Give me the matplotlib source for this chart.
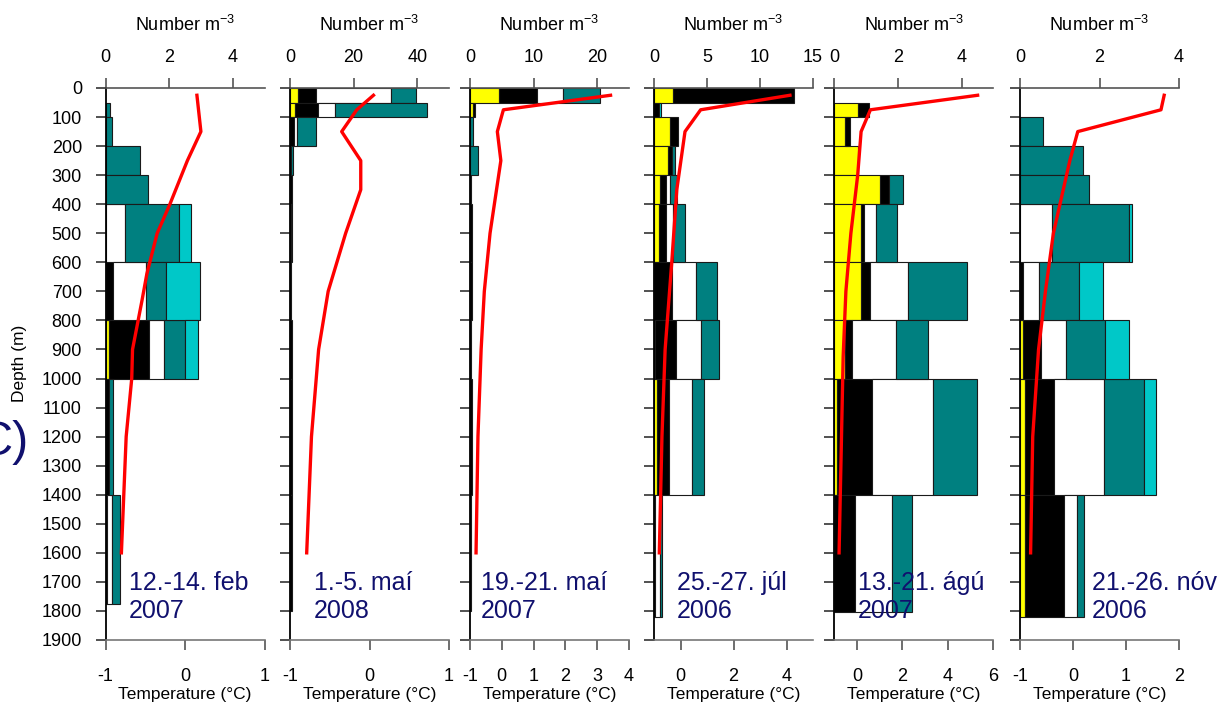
import numpy as np
import matplotlib.pyplot as plt

plt.rcParams['font.family'] = ['Liberation Sans', 'DejaVu Sans']
plt.rcParams['axes.unicode_minus'] = False

# depth layers of the net hauls (m): upper limits, last layer ends at the haul bottom
layer_top = [0, 50, 100, 200, 300, 400, 600, 800, 1000, 1400]
haul_bottom = [1775, 1800, 1800, 1820, 1805, 1820]

dates = ['12.-14. feb\n2007', '1.-5. maí\n2008', '19.-21. maí\n2007',
         '25.-27. júl\n2006', '13.-21. ágú\n2007', '21.-26. nóv\n2006']

# abundance in each layer (Number m-3), one list per colour group
feb07_yellow = [0, 0, 0, 0, 0, 0, 0, 0.11, 0, 0.04]
feb07_black = [0, 0, 0, 0, 0, 0, 0.25, 1.25, 0.10, 0.02]
feb07_white = [0, 0, 0, 0, 0, 0.62, 1.01, 0.48, 0, 0.16]
feb07_teal = [0, 0.15, 0.22, 1.10, 1.35, 1.68, 0.65, 0.67, 0.14, 0.23]
feb07_cyan = [0, 0, 0, 0, 0, 0.40, 1.06, 0.41, 0, 0]

may08_yellow = [2.4, 1.6, 0, 0, 0, 0, 0, 0, 0, 0]
may08_black = [5.7, 7.1, 1.4, 0.3, 0.6, 0.3, 0.3, 0.5, 0.7, 0.7]
may08_white = [23.7, 5.4, 0.8, 0, 0, 0, 0, 0, 0, 0]
may08_teal = [7.9, 29.0, 6.0, 0.7, 0, 0.3, 0, 0, 0, 0]
may08_cyan = [0, 0, 0, 0, 0, 0, 0, 0, 0, 0]

may07_yellow = [4.6, 0.5, 0, 0, 0, 0, 0, 0, 0, 0]
may07_black = [6.0, 0.3, 0, 0, 0.2, 0.3, 0.3, 0.2, 0.3, 0.15]
may07_white = [4.0, 0, 0, 0, 0, 0, 0, 0, 0, 0]
may07_teal = [5.8, 0, 0.5, 1.3, 0, 0, 0, 0, 0, 0]
may07_cyan = [0, 0, 0, 0, 0, 0, 0, 0, 0, 0]

jul06_yellow = [1.76, 0, 1.50, 1.32, 0.54, 0.47, 0, 0.10, 0.25, 0]
jul06_black = [11.44, 0.45, 0.80, 0.35, 0.56, 0.63, 1.73, 1.94, 1.20, 0.10]
jul06_white = [0, 0, 0, 0, 0.40, 0.66, 2.23, 2.39, 2.10, 0.50]
jul06_teal = [0, 0, 0, 0.31, 0.70, 1.16, 2.00, 1.67, 1.19, 0.12]
jul06_cyan = [0, 0.25, 0, 0, 0, 0, 0, 0, 0, 0]

aug07_yellow = [0, 0.73, 0.34, 0.73, 1.44, 0.84, 0.84, 0.34, 0.07, 0]
aug07_black = [0, 0.36, 0.16, 0, 0.29, 0.10, 0.28, 0.21, 1.11, 0.65]
aug07_white = [0, 0, 0, 0, 0, 0.37, 1.19, 1.39, 1.91, 1.16]
aug07_teal = [0, 0, 0, 0, 0.42, 0.66, 1.85, 1.00, 1.40, 0.63]
aug07_cyan = [0, 0, 0, 0, 0, 0, 0, 0, 0, 0]

nov06_yellow = [0, 0, 0, 0, 0, 0, 0, 0.07, 0.13, 0.13]
nov06_black = [0, 0, 0, 0, 0, 0, 0.07, 0.45, 0.72, 0.97]
nov06_white = [0, 0, 0, 0, 0, 0.80, 0.42, 0.63, 1.26, 0.34]
nov06_teal = [0, 0, 0.58, 1.59, 1.74, 1.95, 1.00, 1.00, 1.01, 0.17]
nov06_cyan = [0, 0, 0, 0, 0, 0.07, 0.60, 0.59, 0.30, 0]

# temperature profiles (depth m, deg C)
feb07_tdepth = [25, 150, 250, 400, 500, 640, 730, 900, 1000, 1200, 1600]
feb07_temp = [0.15, 0.20, 0.03, -0.19, -0.35, -0.48, -0.54, -0.66, -0.67, -0.74, -0.80]
may08_tdepth = [25, 75, 150, 250, 350, 500, 700, 900, 1200, 1600]
may08_temp = [0.05, -0.16, -0.35, -0.11, -0.11, -0.30, -0.52, -0.64, -0.73, -0.79]
may07_tdepth = [25, 75, 150, 250, 500, 700, 900, 1200, 1600]
may07_temp = [3.42, 0.05, -0.14, -0.03, -0.37, -0.55, -0.65, -0.75, -0.81]
jul06_tdepth = [25, 75, 150, 350, 600, 900, 1200, 1600]
jul06_temp = [4.13, 0.76, 0.17, -0.14, -0.33, -0.58, -0.70, -0.80]
aug07_tdepth = [25, 75, 150, 300, 500, 700, 925, 1600]
aug07_temp = [5.31, 0.59, 0.18, 0.03, -0.27, -0.49, -0.61, -0.79]
nov06_tdepth = [25, 75, 150, 250, 500, 700, 900, 1200, 1600]
nov06_temp = [1.72, 1.66, 0.09, -0.06, -0.37, -0.52, -0.65, -0.76, -0.80]

panels = [
    [feb07_yellow, feb07_black, feb07_white, feb07_teal, feb07_cyan],
    [may08_yellow, may08_black, may08_white, may08_teal, may08_cyan],
    [may07_yellow, may07_black, may07_white, may07_teal, may07_cyan],
    [jul06_yellow, jul06_black, jul06_white, jul06_teal, jul06_cyan],
    [aug07_yellow, aug07_black, aug07_white, aug07_teal, aug07_cyan],
    [nov06_yellow, nov06_black, nov06_white, nov06_teal, nov06_cyan],
]
tdepths = [feb07_tdepth, may08_tdepth, may07_tdepth, jul06_tdepth, aug07_tdepth, nov06_tdepth]
temps = [feb07_temp, may08_temp, may07_temp, jul06_temp, aug07_temp, nov06_temp]

num_max = [5, 50, 25, 15, 5, 4]
num_ticks = [[0, 2, 4], [0, 20, 40], [0, 10, 20], [0, 5, 10, 15], [0, 2, 4], [0, 2, 4]]
temp_lim = [(-1, 1), (-1, 1), (-1, 4), (-1, 5), (-1, 6), (-1, 2)]
temp_ticks = [[-1, 0, 1], [-1, 0, 1], [-1, 0, 1, 2, 3, 4], [0, 2, 4], [0, 2, 4, 6], [-1, 0, 1, 2]]
label_x = [0.147, 0.152, 0.069, 0.145, 0.149, 0.45]

colours = ['#FFFF00', '#000000', '#FFFFFF', '#008080', '#00C8C8']
navy = '#10106e'
W, H = 1226, 707
left_px = [105.5, 290, 470, 654, 834.3, 1020]
top_px, bot_px, width_px = 88, 640, 159

fig = plt.figure(figsize=(W / 100, H / 100), dpi=100)

for i in range(6):
    rect = [left_px[i] / W, 1 - bot_px / H, width_px / W, (bot_px - top_px) / H]
    ax = fig.add_axes(rect)
    axt = ax.twiny()

    # stacked bars per layer
    edges = np.array(layer_top + [haul_bottom[i]])
    centres = (edges[:-1] + edges[1:]) / 2
    heights = np.diff(edges)
    left = np.zeros(len(centres))
    for vals, col in zip(panels[i], colours):
        vals = np.array(vals, dtype=float)
        m = vals > 0
        if m.any():
            ax.barh(centres[m], vals[m], height=heights[m], left=left[m],
                    color=col, edgecolor='#1a1a1a', linewidth=0.8)
        left += vals

    axt.plot(temps[i], tdepths[i], color='#FF0000', lw=2.4)

    ax.set_xlim(0, num_max[i])
    ax.set_ylim(1900, 0)
    ax.set_yticks(range(0, 2000, 100))
    axt.set_xlim(*temp_lim[i])

    ax.xaxis.set_ticks_position('top')
    ax.xaxis.set_label_position('top')
    ax.set_xticks(num_ticks[i])
    ax.set_xlabel('Number m$^{\\mathregular{-3}}$', fontsize=13, labelpad=13)
    ax.tick_params(axis='x', direction='out', length=7, width=1.2, color='#555555',
                   labelsize=13, pad=9)
    ax.tick_params(axis='y', direction='out', length=7, width=1.2, color='#333333',
                   labelsize=13, pad=10, labelleft=(i == 0))

    axt.xaxis.set_ticks_position('bottom')
    axt.xaxis.set_label_position('bottom')
    axt.set_xticks(temp_ticks[i])
    axt.set_xlabel('Temperature (°C)', fontsize=12.5, labelpad=1.5)
    axt.tick_params(axis='x', direction='out', length=7, width=1.2, color='#555555',
                    labelsize=13, pad=13)

    for a in (ax, axt):
        a.spines['right'].set_visible(False)
    ax.spines['bottom'].set_visible(False)
    axt.spines['top'].set_visible(False)
    axt.spines['left'].set_visible(False)
    ax.spines['left'].set_color('black')
    ax.spines['left'].set_linewidth(1.3)
    ax.spines['top'].set_color('#555555')
    ax.spines['top'].set_linewidth(1.2)
    axt.spines['bottom'].set_color('#777777')
    axt.spines['bottom'].set_linewidth(1.2)

    axt.text(label_x[i], (bot_px - 571) / (bot_px - top_px), dates[i],
             transform=ax.transAxes, fontsize=18, color=navy, va='top', ha='left',
             linespacing=1.2, zorder=10)

fig.text(20 / W, 1 - 363 / H, 'Depth (m)', rotation=90, fontsize=12.5,
         ha='center', va='center')
# panel letter, partly cut off at the left edge as in the original figure
fig.text(29 / W, 1 - 455 / H, 'C)', fontsize=35, color=navy, ha='right', va='baseline')

fig.savefig('out.png', dpi=100)
